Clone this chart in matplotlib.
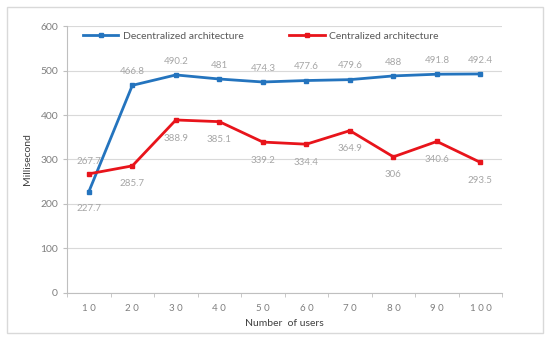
import numpy as np
import matplotlib
matplotlib.use("Agg")
import matplotlib.pyplot as plt

plt.rcParams['font.family'] = ['Lato', 'DejaVu Sans']

users = ['1 0', '2 0', '3 0', '4 0', '5 0', '6 0', '7 0', '8 0', '9 0', '1 0 0']
decentral = [227.7, 466.8, 490.2, 481, 474.3, 477.6, 479.6, 488, 491.8, 492.4]
central = [267.7, 285.7, 388.9, 385.1, 339.2, 334.4, 364.9, 306, 340.6, 293.5]

blue = '#2474BE'
red = '#E8141B'
grey = '#A6A6A6'

fig = plt.figure(figsize=(5.5, 3.39), dpi=100)
# outer border like the office chart frame
fig.patches.append(plt.Rectangle((0.013, 0.018), 0.974, 0.962, transform=fig.transFigure,
                                 fill=False, edgecolor='#D9D9D9', linewidth=1))
ax = fig.add_axes([0.122, 0.136, 0.791, 0.787])

x = np.arange(len(users))
ax.plot(x, decentral, color=blue, lw=2, marker='s', ms=3.5, label='Decentralized architecture')
ax.plot(x, central, color=red, lw=2, marker='s', ms=3.5, label='Centralized architecture')

# data labels
for i, v in enumerate(decentral):
    dy = -12 if i == 0 else 10
    ax.annotate(f'{v:g}', (x[i], v), xytext=(0, dy), textcoords='offset points',
                ha='center', va='center', fontsize=7, color=grey)
for i, v in enumerate(central):
    dy = 9 if i == 0 else -13
    ax.annotate(f'{v:g}', (x[i], v), xytext=(0, dy), textcoords='offset points',
                ha='center', va='center', fontsize=7, color=grey)

ax.set_xlim(-0.5, len(users) - 0.5)
ax.set_ylim(0, 600)
ax.set_yticks(range(0, 601, 100))
ax.set_xticks(x)
ax.set_xticklabels(users)
ax.set_xticks(np.arange(-0.5, len(users), 1), minor=True)
ax.tick_params(axis='x', which='major', length=0, labelsize=7, colors='#7F7F7F', pad=8)
ax.tick_params(axis='x', which='minor', length=3, color='#BFBFBF', direction='out')
ax.tick_params(axis='y', length=3, color='#BFBFBF', labelsize=7.5, labelcolor='#7F7F7F')
ax.grid(axis='y', color='#D9D9D9', lw=0.8)
ax.set_axisbelow(True)
for s in ['top', 'right']:
    ax.spines[s].set_visible(False)
for s in ['left', 'bottom']:
    ax.spines[s].set_color('#BFBFBF')

ax.set_xlabel('Number  of users', fontsize=7.5, color='#404040', labelpad=4)
ax.set_ylabel('Millisecond', fontsize=7.5, color='#404040', labelpad=6)

ax.legend(loc='upper left', bbox_to_anchor=(0.015, 1.015), ncol=2, frameon=False,
          fontsize=7.5, labelcolor='#595959', columnspacing=4.4, handlelength=3.4,
          handletextpad=0.4)

fig.savefig('out.png', dpi=100)
